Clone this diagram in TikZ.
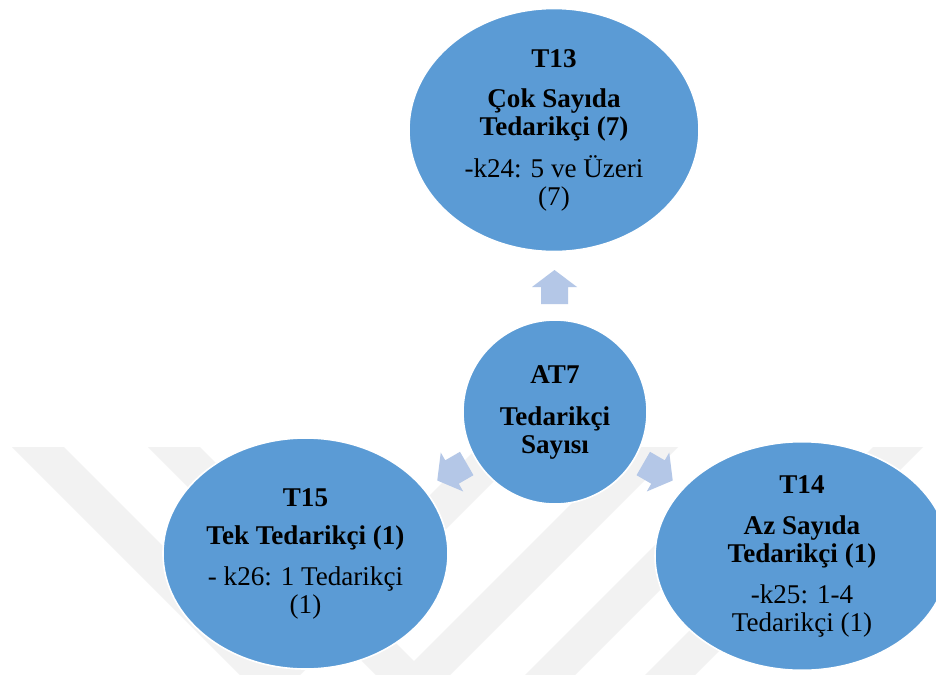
\documentclass[tikz,border=0pt]{standalone}
\usepackage{fontspec}
\setmainfont{Liberation Serif}
\usetikzlibrary{shapes.geometric}
\definecolor{bubbleblue}{RGB}{91,155,213}
\definecolor{arrowblue}{RGB}{180,199,231}
\definecolor{markgray}{RGB}{242,242,242}
\tikzset{
  bubble/.style={ellipse, fill=bubbleblue, draw=white, line width=1.2pt,
    inner sep=0pt, align=center, font=\fontsize{20.3}{21}\selectfont},
  blockarrow/.style={fill=arrowblue},
  markband/.style={fill=markgray}
}
\begin{document}
\begin{tikzpicture}[x=0.75pt,y=-0.75pt]
  % canvas
  \fill[white] (0,0) rectangle (936,675);
  \clip (0,0) rectangle (936,675);

  % faint striped emblem in the lower half
  \begin{scope}
    \clip (0,447) rectangle (936,675);
    \foreach \a in {12,148}
      \fill[markband] (\a,447) -- (\a+52,447) -- (\a+352,747) -- (\a+300,747) -- cycle;
    \foreach \s in {925,1075,1200,1320}
      \fill[markband] (\s-447,447) -- (\s-397,447) -- (\s-697,747) -- (\s-747,747) -- cycle;
  \end{scope}

  % block arrows pointing outwards from the hub
  \foreach \cx/\cy/\ang in {554.5/287/90, 452/472/210, 658/472/-30}
    \fill[blockarrow, shift={(\cx,\cy)}, rotate=\ang]
      (-17,-13.5) -- (0,-13.5) -- (0,-22.5) -- (17,0) -- (0,22.5) -- (0,13.5) -- (-17,13.5) -- cycle;

  % hub
  \node[bubble, minimum width=138pt, minimum height=138pt] (at7) at (555,412)
    {\textbf{AT7}\\[10.5pt]\textbf{Tedarikçi}\\\textbf{Sayısı}};

  % outer bubbles
  \node[bubble, minimum width=217.5pt, minimum height=182.25pt] (t13) at (554,130)
    {\textbf{T13}\\[9pt]\textbf{Çok Sayıda}\\\textbf{Tedarikçi (7)}\\[10.5pt]-k24: 5 ve Üzeri\\(7)};
  \node[bubble, minimum width=213.75pt, minimum height=173.25pt] (t15) at (305.5,553.5)
    {\textbf{T15}\\[7.5pt]\textbf{Tek Tedarikçi (1)}\\[9.75pt]- k26: 1 Tedarikçi\\(1)};
  \node[bubble, minimum width=220.5pt, minimum height=171pt] (t14) at (802,556)
    {\textbf{T14}\\[9.75pt]\textbf{Az Sayıda}\\\textbf{Tedarikçi (1)}\\[9.75pt]-k25: 1-4\\Tedarikçi (1)};
\end{tikzpicture}
\end{document}
